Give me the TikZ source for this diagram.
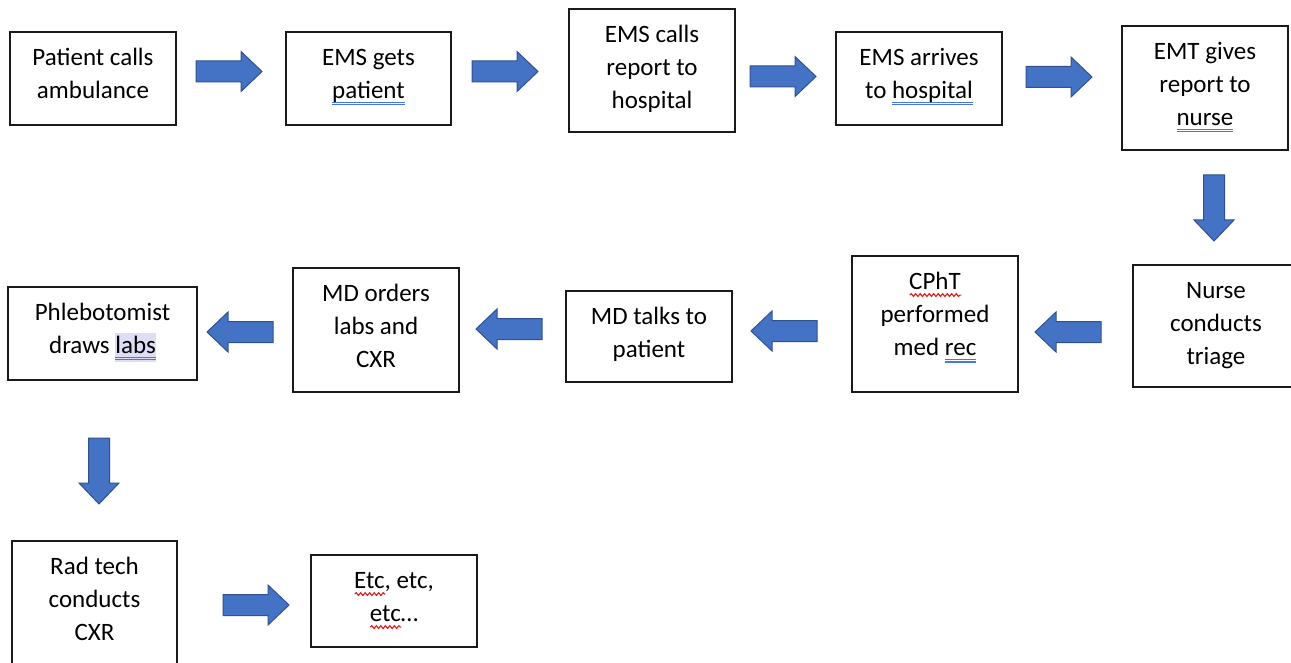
\documentclass[tikz,border=0pt]{standalone}
\usepackage{fontspec}
\setmainfont{Carlito}
\usetikzlibrary{decorations.pathmorphing}
\definecolor{arrowblue}{HTML}{4472C4}
\definecolor{arrowedge}{HTML}{2F528F}
\definecolor{ulblue}{HTML}{4A78D8}
\definecolor{hlcol}{HTML}{DDDDF6}
\definecolor{wavyred}{HTML}{E81818}
\definecolor{boxline}{HTML}{1A1A1A}
\newsavebox\myulbox
\newlength\myulw
\newcommand\dblul[1]{\sbox\myulbox{#1}%
  \makebox[0pt][l]{\color{ulblue}\rule[-4.5pt]{\wd\myulbox}{1.1pt}}%
  \makebox[0pt][l]{\color{ulblue}\rule[-7pt]{\wd\myulbox}{1.1pt}}%
  \usebox\myulbox}
\newcommand\hlul[1]{\sbox\myulbox{#1}%
  \makebox[0pt][l]{\color{hlcol}\rule[-8pt]{\wd\myulbox}{29pt}}%
  \dblul{#1}}
\newcommand\wavyul[1]{\sbox\myulbox{#1}\setlength\myulw{\wd\myulbox}%
  \makebox[0pt][l]{\raisebox{-7.5pt}{\tikz[x=1pt,y=1pt]\draw[wavyred,line width=1.1pt,decorate,decoration={snake,segment length=4.5pt,amplitude=1.4pt}] (0pt,0pt) -- (\myulw,0pt);}}%
  \usebox\myulbox}
\newcommand\bx[6]{\node[flowbox,anchor=north west] (#1) at (#2,#3)
  {\parbox[c][#5pt][t]{#4pt}{\centering\rule{0pt}{33.5pt}#6}};}
\tikzset{
  flowbox/.style={draw=boxline, line width=1.5pt, inner sep=0pt, outer sep=0pt,
    font=\fontsize{25}{33}\selectfont, text=black},
  arrowstyle/.style={fill=arrowblue, draw=arrowedge, line width=1pt, line join=miter},
  barrow/.pic={\draw[arrowstyle] (0,-10.5) -- (45,-10.5) -- (45,-20) -- (66,0) -- (45,20) -- (45,10.5) -- (0,10.5) -- cycle;}
}
\begin{document}
\begin{tikzpicture}[x=1pt,y=-1pt]
\useasboundingbox (0,0) rectangle (1291,663);
\fill[white] (0,0) rectangle (1291,663);
% row 1
\bx{b1}{10}{32}{166}{93}{Patient calls\\ambulance}
\bx{b2}{286}{32}{165}{93}{EMS gets\\\dblul{patient}}
\bx{b3}{569}{9}{166}{123}{EMS calls\\report to\\hospital}
\bx{b4}{836}{32}{166}{93}{EMS arrives\\to \dblul{hospital}}
\bx{b5}{1122}{26}{166}{124}{EMT gives\\report to\\\dblul{nurse}}
% row 2
\bx{b6}{1133}{265}{166}{122}{Nurse\\conducts\\triage}
\bx{b7}{852}{256}{166}{136}{\wavyul{CPhT}\\performed\\med \dblul{rec}}
\bx{b8}{566}{291}{166}{91}{MD talks to\\patient}
\bx{b9}{293}{268}{166}{124}{MD orders\\labs and\\CXR}
\bx{b10}{8}{287}{189}{93}{Phlebotomist\\draws \hlul{labs}}
% row 3
\bx{b11}{12}{541}{165}{124}{Rad tech\\conducts\\CXR}
\bx{b12}{311}{555}{166}{92}{\wavyul{Etc}, etc,\\\wavyul{etc}\ldots}
% block arrows
\pic at (196,71.5) {barrow};
\pic at (472,71.5) {barrow};
\pic at (750,76.5) {barrow};
\pic at (1026,77) {barrow};
\pic[rotate=-90] at (1214,175) {barrow};
\pic[rotate=180] at (1101,332) {barrow};
\pic[rotate=180] at (817,331) {barrow};
\pic[rotate=180] at (542,329) {barrow};
\pic[rotate=180] at (273,332) {barrow};
\pic[rotate=-90] at (99,438) {barrow};
\pic at (223,605) {barrow};
\end{tikzpicture}
\end{document}
